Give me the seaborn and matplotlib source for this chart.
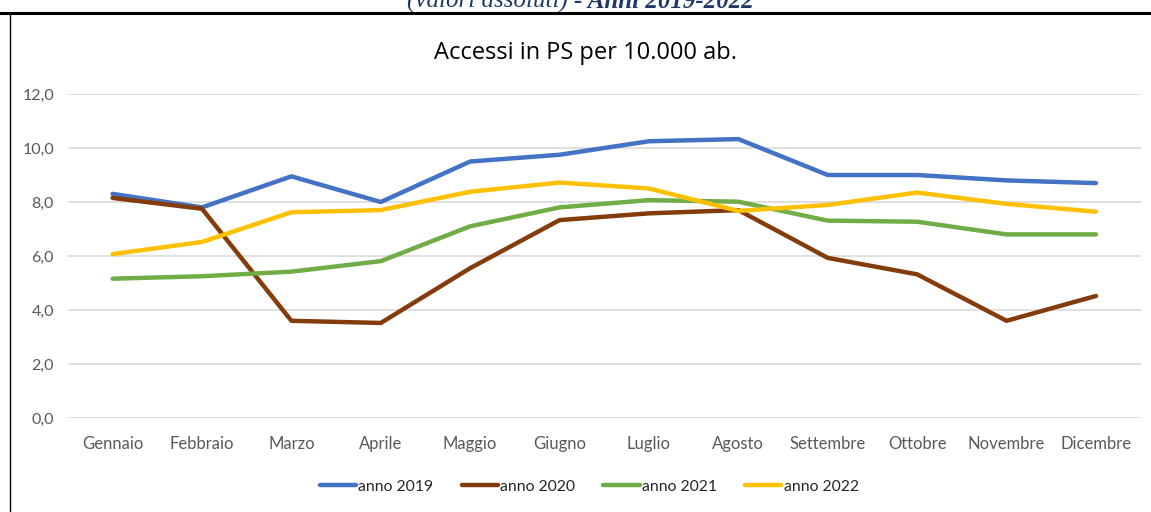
import matplotlib
matplotlib.use("Agg")
import matplotlib.pyplot as plt
import seaborn as sns
import pandas as pd
from matplotlib.lines import Line2D

months = ["Gennaio", "Febbraio", "Marzo", "Aprile", "Maggio", "Giugno",
          "Luglio", "Agosto", "Settembre", "Ottobre", "Novembre", "Dicembre"]
anno_2019 = [8.3, 7.8, 8.95, 8.0, 9.5, 9.75, 10.25, 10.33, 9.0, 9.0, 8.8, 8.7]
anno_2020 = [8.15, 7.75, 3.6, 3.52, 5.55, 7.33, 7.58, 7.7, 5.93, 5.32, 3.6, 4.52]
anno_2021 = [5.16, 5.25, 5.42, 5.81, 7.1, 7.8, 8.07, 8.01, 7.31, 7.27, 6.8, 6.8]
anno_2022 = [6.07, 6.52, 7.62, 7.7, 8.38, 8.72, 8.5, 7.67, 7.89, 8.35, 7.93, 7.64]
series_names = ["anno 2019", "anno 2020", "anno 2021", "anno 2022"]
colors = ["#4472C4", "#843C0C", "#70AD47", "#FFC000"]
yticks = [0, 2, 4, 6, 8, 10, 12]

rows = []
for name, vals in zip(series_names, [anno_2019, anno_2020, anno_2021, anno_2022]):
    for m, v in zip(months, vals):
        rows.append({"mese": m, "valore": v, "serie": name})
df = pd.DataFrame(rows)
df["pos"] = df["mese"].map({m: i for i, m in enumerate(months)})

sns.set_theme(style="white")
plt.rcParams["font.family"] = ["Lato", "DejaVu Sans"]

fig = plt.figure(figsize=(11.51, 5.12), dpi=100)
ax = fig.add_axes([0.059, 0.1836, 0.932, 0.6328])

sns.lineplot(data=df, x="pos", y="valore", hue="serie", palette=colors,
             hue_order=series_names, sort=False, linewidth=3.2, ax=ax,
             legend=False, zorder=3)

ax.set_xlim(-0.5, len(months) - 0.5)
ax.set_ylim(0, 12)
ax.set_yticks(yticks)
ax.set_yticklabels([f"{v:.1f}".replace(".", ",") for v in yticks],
                   color="#595959", fontsize=11.5)
ax.set_xticks(range(len(months)))
ax.set_xticklabels(months, color="#595959", fontsize=12)
ax.tick_params(axis="both", length=0, pad=10)
ax.tick_params(axis="x", pad=13)
ax.grid(axis="y", color="#D9D9D9", linewidth=1.2, zorder=0)
ax.grid(axis="x", visible=False)
for s in ax.spines.values():
    s.set_visible(False)
ax.set_xlabel("")
ax.set_ylabel("")

fig.text(0.509, 0.896, "Accessi in PS per 10.000 ab.", ha="center", va="center",
         fontsize=17, color="#000000", family=["Open Sans", "DejaVu Sans"])

handles = [Line2D([0], [0], color=c, lw=3.2, solid_capstyle="round") for c in colors]
fig.legend(handles, series_names, loc="center", bbox_to_anchor=(0.512, 0.049),
           ncol=4, frameon=False, fontsize=11.3, handlelength=2.3,
           handletextpad=0.15, columnspacing=1.8)

# border frame
fig.add_artist(Line2D([0.0, 1.0], [1 - 13 / 512, 1 - 13 / 512], color="black",
                      lw=2.2, transform=fig.transFigure))
fig.add_artist(Line2D([10 / 1151, 10 / 1151], [0.0, 1 - 13 / 512], color="black",
                      lw=1.0, transform=fig.transFigure))

# cut-off heading above the frame
fig.text(0.499, 1.0 - 1 / 512, "(valori assoluti) ", ha="right", va="center",
         fontsize=18, color="#1F3864", family="Liberation Serif", style="italic")
fig.text(0.499, 1.0 - 1 / 512, "- Anni 2019-2022", ha="left", va="center",
         fontsize=18, color="#1F3864", family="Liberation Serif", style="italic",
         weight="bold")

fig.savefig("out.png", dpi=100, facecolor="white")
